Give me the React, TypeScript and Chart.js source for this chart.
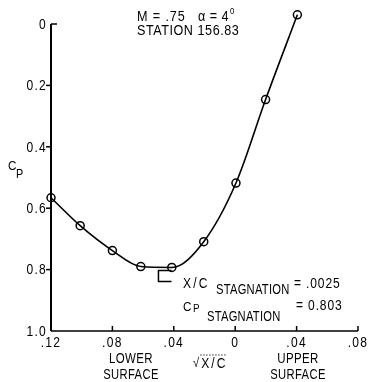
import React, { useEffect, useRef } from 'react';
import { Chart, registerables } from 'chart.js';

Chart.register(...registerables);

const FONT = '"Liberation Sans", Arimo, "DejaVu Sans", sans-serif';

// sqrt(x/c), signed: lower surface negative, upper surface positive
const sqrtXc = [-0.12, -0.101, -0.08, -0.0615, -0.0413, -0.0205, 0.0005, 0.0198, 0.0405];
const cpValues = [0.566, 0.657, 0.738, 0.79, 0.793, 0.709, 0.518, 0.246, -0.03];

const xTickValues = [-0.12, -0.08, -0.04, 0, 0.04, 0.08];
const yTickValues = [0, 0.2, 0.4, 0.6, 0.8, 1.0];

const xcStagnation = 0.0025;
const cpStagnation = 0.803;

const fmtX = (v: number) => (Math.abs(v) < 1e-9 ? '0' : Math.abs(v).toFixed(2).replace(/^0/, ''));
const fmtY = (v: number) => (Math.abs(v) < 1e-9 ? '0' : v.toFixed(1));

// condensed typewriter-like lettering
function label(
  ctx: CanvasRenderingContext2D,
  str: string,
  x: number,
  y: number,
  size: number,
  align: CanvasTextAlign = 'left',
  squeeze = 0.86,
  spacing = 0,
) {
  ctx.save();
  ctx.font = `${size}px ${FONT}`;
  (ctx as any).letterSpacing = `${spacing}px`;
  ctx.textAlign = align;
  ctx.textBaseline = 'middle';
  ctx.translate(x, y);
  ctx.scale(squeeze, 1);
  ctx.fillText(str, 0, 0);
  const w = ctx.measureText(str).width * squeeze;
  ctx.restore();
  return w;
}

const decorPlugin = {
  id: 'decor',
  afterDraw(chart: any) {
    const { ctx, chartArea, scales } = chart;
    const xs = scales.x;
    const ys = scales.y;
    const { left, right, bottom } = chartArea;
    const top = ys.getPixelForValue(0);
    ctx.save();
    ctx.strokeStyle = '#000';
    ctx.fillStyle = '#000';

    // axes
    ctx.lineWidth = 2;
    ctx.beginPath();
    ctx.moveTo(left, top);
    ctx.lineTo(left, bottom);
    ctx.stroke();
    ctx.lineWidth = 1.5;
    ctx.beginPath();
    ctx.moveTo(left, bottom);
    ctx.lineTo(right, bottom);
    ctx.stroke();

    // y tick marks and labels
    yTickValues.forEach((v) => {
      const y = ys.getPixelForValue(v);
      ctx.lineWidth = 1.5;
      ctx.beginPath();
      if (v === 0) {
        ctx.moveTo(left, y);
        ctx.lineTo(left + 6, y);
      } else if (v < 1) {
        ctx.moveTo(left - 5, y);
        ctx.lineTo(left, y);
      }
      ctx.stroke();
      label(ctx, fmtY(v), left - 4, y + 1, 14, 'right', 0.86, 1.5);
    });
    // x tick marks (pointing into the plot) and labels
    xTickValues.forEach((v, i) => {
      const x = xs.getPixelForValue(v);
      if (i > 0) {
        ctx.lineWidth = 1.5;
        ctx.beginPath();
        ctx.moveTo(x, bottom);
        ctx.lineTo(x, bottom - 5);
        ctx.stroke();
      }
      label(ctx, fmtX(v), x, 343, 14, 'center', 0.86, 1.5);
    });

    // stagnation bracket
    const sx = xs.getPixelForValue(-Math.sqrt(xcStagnation));
    const sy = ys.getPixelForValue(cpStagnation);
    const sx2 = xs.getPixelForValue(-Math.sqrt(xcStagnation) + 0.0085);
    const sy2 = ys.getPixelForValue(cpStagnation + 0.036);
    ctx.lineWidth = 1.5;
    ctx.beginPath();
    ctx.moveTo(sx2, sy);
    ctx.lineTo(sx, sy);
    ctx.lineTo(sx, sy2);
    ctx.lineTo(sx2, sy2);
    ctx.stroke();

    // header
    label(ctx, 'M = .75', 137, 17, 14, 'left', 0.9, 1);
    const aw = label(ctx, '\u03b1 = 4', 198, 17, 14, 'left', 0.9, 0.5);
    label(ctx, '0', 198 + aw + 1, 12, 9);
    label(ctx, 'STATION 156.83', 137, 31, 14, 'left', 0.9, 0.6);

    // C_P axis label
    label(ctx, 'C', 8, 166, 13, 'left', 0.9);
    label(ctx, 'P', 16, 175, 12, 'left', 0.9);

    // x axis captions
    label(ctx, 'LOWER', 131, 359, 14, 'center', 0.82, 0.5);
    label(ctx, 'SURFACE', 131, 375, 14, 'center', 0.8, 0.5);
    label(ctx, 'UPPER', 298, 359, 14, 'center', 0.82, 0.5);
    label(ctx, 'SURFACE', 298, 375, 14, 'center', 0.8, 0.5);
    const rw = label(ctx, '\u221a', 193, 363, 13);
    const xw = label(ctx, 'X/C', 194 + rw + 1, 364, 14, 'left', 0.86, 2.5);
    ctx.lineWidth = 0.8;
    ctx.setLineDash([1.5, 1.5]);
    ctx.beginPath();
    ctx.moveTo(194 + rw, 355);
    ctx.lineTo(194 + rw + xw, 355);
    ctx.stroke();
    ctx.setLineDash([]);

    // stagnation annotations
    label(ctx, 'X/C', 183, 284, 14, 'left', 0.86, 2.5);
    label(ctx, 'STAGNATION', 216, 290, 14, 'left', 0.8, 0.3);
    label(ctx, '= .0025', 294, 284, 14, 'left', 0.86, 1);
    label(ctx, 'C', 183, 307, 13, 'left', 0.9);
    label(ctx, 'P', 193, 309, 11, 'left', 0.9);
    label(ctx, 'STAGNATION', 207, 317, 14, 'left', 0.8, 0.3);
    label(ctx, '= 0.803', 296, 306, 14, 'left', 0.86, 1);

    ctx.restore();
  },
};

export default function App() {
  const ref = useRef<HTMLCanvasElement | null>(null);

  useEffect(() => {
    if (!ref.current) return;
    const chart = new Chart(ref.current, {
      type: 'scatter',
      data: {
        datasets: [
          {
            data: sqrtXc.map((x, i) => ({ x, y: cpValues[i] })),
            showLine: true,
            cubicInterpolationMode: 'monotone',
            borderColor: '#000',
            borderWidth: 1.6,
            pointRadius: 4,
            pointBorderWidth: 1.5,
            pointBackgroundColor: 'rgba(255,255,255,0)',
            pointBorderColor: '#000',
            clip: false,
          } as any,
        ],
      },
      options: {
        responsive: false,
        animation: false,
        events: [],
        layout: { padding: { left: 0, top: 8.65, right: 11, bottom: 0 } },
        plugins: { legend: { display: false }, tooltip: { enabled: false } },
        scales: {
          x: {
            type: 'linear',
            min: -0.12,
            max: 0.08,
            afterFit: (axis: any) => {
              axis.height = 51;
            },
            grid: { display: false, drawTicks: false },
            border: { display: false },
            ticks: { display: false },
          },
          y: {
            type: 'linear',
            reverse: true,
            min: -0.05,
            max: 1.0,
            afterFit: (axis: any) => {
              axis.width = 51;
            },
            grid: { display: false, drawTicks: false },
            border: { display: false },
            ticks: { display: false },
          },
        },
      },
      plugins: [decorPlugin],
    });
    return () => chart.destroy();
  }, []);

  return (
    <div style={{ position: 'fixed', left: 0, top: 0, width: 369, height: 382, background: '#fff' }}>
      <canvas ref={ref} width={369} height={382} style={{ display: 'block' }} />
    </div>
  );
}
